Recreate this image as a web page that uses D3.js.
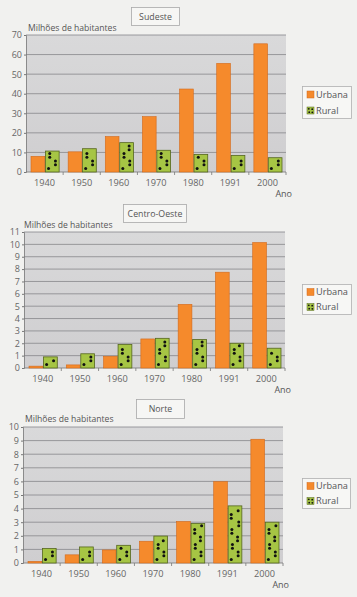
<!DOCTYPE html>
<html><head><meta charset="utf-8">
<script src="https://cdn.jsdelivr.net/npm/d3@7"></script>
<style>
html,body{margin:0;padding:0;background:#f1f1ef;}
svg{display:block;font-family:"Open Sans",sans-serif;}
</style></head>
<body><svg id="c" width="357" height="597"></svg>
<script>
// ---- data ----
const years = ["1940","1950","1960","1970","1980","1991","2000"];
const seriesNames = ["Urbana","Rural"];
const sudesteUrbana = [8, 10.3, 18.1, 28.3, 42.4, 55.5, 65.5];
const sudesteRural  = [10.7, 11.9, 15, 11.1, 9, 8.4, 7.3];
const sudesteTicks  = [0,10,20,30,40,50,60,70];
const centroUrbana  = [0.15, 0.25, 0.95, 2.35, 5.15, 7.75, 10.15];
const centroRural   = [0.9, 1.15, 1.9, 2.4, 2.3, 2.0, 1.6];
const centroTicks   = [0,1,2,3,4,5,6,7,8,9,10,11];
const norteUrbana   = [0.12, 0.6, 0.96, 1.6, 3.05, 5.98, 9.1];
const norteRural    = [1.06, 1.18, 1.3, 1.98, 2.9, 4.2, 3.0];
const norteTicks    = [0,1,2,3,4,5,6,7,8,9,10];
const titles = ["Sudeste","Centro-Oeste","Norte"];
const yLabel = "Milhões de habitantes";
const xLabel = "Ano";

// ---- layout ----
const panels = [
  {title:titles[0], urb:sudesteUrbana, rur:sudesteRural, ticks:sudesteTicks,
   x0:26, x1:286, y0:35, y1:172, tb:[131,7,48,18], lb:[302,86,49,32], lab:[28,31]},
  {title:titles[1], urb:centroUrbana, rur:centroRural, ticks:centroTicks,
   x0:24, x1:285, y0:232, y1:368, tb:[123,204,63,18], lb:[302,284,49,30], lab:[24,228]},
  {title:titles[2], urb:norteUrbana, rur:norteRural, ticks:norteTicks,
   x0:23, x1:283, y0:427, y1:563, tb:[136,399,48,19], lb:[302,478,48,30], lab:[25,422]}
];
const ORANGE="#f58a2c", ORANGE_EDGE="#d2691c", GREEN="#a6c544", GREEN_EDGE="#55661e";

const svg = d3.select("#c");
const defs = svg.append("defs");
const grad = defs.append("linearGradient").attr("id","bg").attr("x1",0).attr("y1",0).attr("x2",0).attr("y2",1);
grad.append("stop").attr("offset","0%").attr("stop-color","#d9d9da");
grad.append("stop").attr("offset","100%").attr("stop-color","#cfced0");

function dots(g, x, y, w, h){
  const cols=[0.27,0.73];
  let i=0;
  for(let yy=y+h-3.5; yy>y+1.8; yy-=7.5){
    const cx = x + w*cols[i%2] + ((i%3)-1)*0.6;
    g.append("circle").attr("cx",cx).attr("cy",yy).attr("r",1.5).attr("fill","#111");
    i++;
  }
  i=1;
  for(let yy=y+h-7.2; yy>y+1.8; yy-=7.5){
    const cx = x + w*cols[i%2] + ((i%3)-1)*0.6;
    g.append("circle").attr("cx",cx).attr("cy",yy).attr("r",1.5).attr("fill","#111");
    i++;
  }
}

panels.forEach(p=>{
  const g = svg.append("g");
  const ymax = p.ticks[p.ticks.length-1];
  const x = d3.scaleBand().domain(years).range([p.x0,p.x1]);
  const xs = d3.scaleBand().domain(seriesNames).range([5, x.bandwidth()-4]).paddingInner(0.05);
  const y = d3.scaleLinear().domain([0,ymax]).range([p.y1,p.y0]);

  // title box
  g.append("rect").attr("x",p.tb[0]+0.5).attr("y",p.tb[1]+0.5).attr("width",p.tb[2]).attr("height",p.tb[3])
    .attr("fill","#f6f6f4").attr("stroke","#a9a9a9").attr("stroke-width",0.8);
  g.append("text").attr("x",p.tb[0]+p.tb[2]/2+0.5).attr("y",p.tb[1]+p.tb[3]/2+3.5)
    .attr("text-anchor","middle").attr("font-size",8.8).attr("fill","#555").text(p.title);

  // y label
  g.append("text").attr("x",p.lab[0]).attr("y",p.lab[1]).attr("font-size",8.6).attr("fill","#555").text(yLabel);

  // plot background
  g.append("rect").attr("x",p.x0).attr("y",p.y0).attr("width",p.x1-p.x0).attr("height",p.y1-p.y0).attr("fill","url(#bg)");

  // grid
  g.append("g").selectAll("line").data(p.ticks.slice(1)).join("line")
    .attr("x1",p.x0).attr("x2",p.x1).attr("y1",d=>y(d)).attr("y2",d=>y(d))
    .attr("stroke","#86868a").attr("stroke-width",0.8);

  // y axis
  const ya = d3.axisLeft(y).tickValues(p.ticks).tickSize(2).tickPadding(2);
  const yg = g.append("g").attr("transform",`translate(${p.x0},0)`).call(ya);
  yg.select(".domain").attr("stroke","#777").attr("stroke-width",0.8);
  yg.selectAll(".tick line").attr("stroke","#777");
  yg.selectAll("text").attr("font-size",9).attr("fill","#666").attr("font-family","Open Sans, sans-serif");

  // x axis
  g.append("line").attr("x1",p.x0).attr("x2",p.x1).attr("y1",p.y1).attr("y2",p.y1).attr("stroke","#777").attr("stroke-width",0.8);
  g.append("g").selectAll("line").data(years.slice(1).concat(["end"])).join("line")
    .attr("x1",d=>d==="end"?p.x1:x(d)).attr("x2",d=>d==="end"?p.x1:x(d))
    .attr("y1",p.y1).attr("y2",p.y1+3).attr("stroke","#777").attr("stroke-width",0.8);
  g.append("g").selectAll("text").data(years).join("text")
    .attr("x",d=>x(d)+x.bandwidth()/2).attr("y",p.y1+13.5).attr("text-anchor","middle")
    .attr("font-size",9.2).attr("fill","#666").text(d=>d);
  g.append("text").attr("x",p.x1+6).attr("y",p.y1+24.5).attr("text-anchor","end")
    .attr("font-size",9).attr("fill","#555").text(xLabel);

  // bars
  years.forEach((yr,i)=>{
    const bx = x(yr)+xs("Urbana");
    g.append("rect").attr("x",bx).attr("y",y(p.urb[i])).attr("width",xs.bandwidth()).attr("height",p.y1-y(p.urb[i]))
      .attr("fill",ORANGE).attr("stroke",ORANGE_EDGE).attr("stroke-width",0.6);
    const rx = x(yr)+xs("Rural");
    const ry = y(p.rur[i]);
    g.append("rect").attr("x",rx).attr("y",ry).attr("width",xs.bandwidth()).attr("height",p.y1-ry)
      .attr("fill",GREEN).attr("stroke",GREEN_EDGE).attr("stroke-width",0.8);
    dots(g, rx, ry, xs.bandwidth(), p.y1-ry);
  });

  // legend
  const [lx,ly,lw,lh]=p.lb;
  g.append("rect").attr("x",lx+0.5).attr("y",ly+0.5).attr("width",lw).attr("height",lh)
    .attr("fill","#f7f7f5").attr("stroke","#b0b0b0").attr("stroke-width",0.8);
  const rowH = lh/2;
  seriesNames.forEach((s,k)=>{
    const cy = ly + rowH*(k+0.5)+0.5;
    g.append("rect").attr("x",lx+5).attr("y",cy-3.5).attr("width",7).attr("height",7)
      .attr("fill",k===0?ORANGE:GREEN).attr("stroke",k===0?ORANGE_EDGE:GREEN_EDGE).attr("stroke-width",0.5);
    if(k===1){
      [[1.8,1.8],[5.2,2.2],[2.2,5.2],[5.3,5.3]].forEach(d=>g.append("circle").attr("cx",lx+5+d[0]).attr("cy",cy-3.5+d[1]).attr("r",0.9).attr("fill","#111"));
    }
    g.append("text").attr("x",lx+14).attr("y",cy+3.3).attr("font-size",9.2).attr("fill","#555").text(s);
  });
});
</script></body></html>
